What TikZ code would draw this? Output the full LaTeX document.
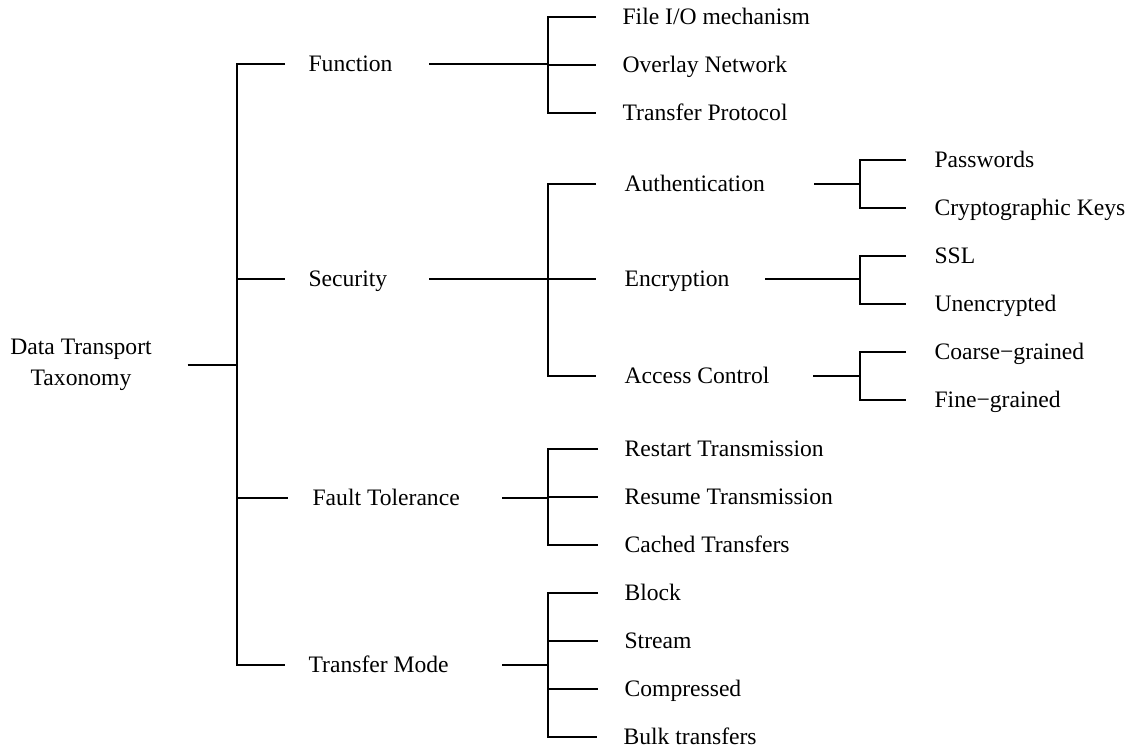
\documentclass[tikz,border=0pt]{standalone}
\usepackage{fontspec}
\setmainfont{Liberation Serif}

\tikzset{
  leaf/.style={anchor=west, inner xsep=#1, inner ysep=0pt, text height=7.8pt, text depth=0pt},
  leaf/.default=13pt,
  branch/.style 2 args={leaf=#1, text width=#2, align=flush left},
}

\begin{document}
\begin{tikzpicture}[x=0.5pt, y=-0.5pt, line width=0.6pt, font=\fontsize{11.8}{15.5}\selectfont]
\useasboundingbox (0,0) rectangle (1132,753);
\coordinate (trunk) at (237,0);
\coordinate (mid) at (548,0);
\coordinate (twig) at (860,0);
\node[align=center, minimum width=106pt, inner xsep=0pt] (root) at (81,365) {Data Transport\\Taxonomy};
% first level
\node[branch={11.5pt}{48.5pt}] (func) at (285,64) {Function};
\node[branch={11.5pt}{48.5pt}] (sec) at (285,279) {Security};
\node[branch={12pt}{82.5pt}] (fault) at (288,498) {Fault Tolerance};
\node[branch={11.5pt}{85pt}] (mode) at (285,665) {Transfer Mode};
% second level
\node[leaf] (fio) at (596,17) {File I/O mechanism};
\node[leaf] (overlay) at (596,65) {Overlay Network};
\node[leaf] (proto) at (596,113) {Transfer Protocol};
\node[branch={14pt}{80.5pt}] (auth) at (596,184) {Authentication};
\node[branch={14pt}{56pt}] (enc) at (596,279) {Encryption};
\node[branch={14pt}{80pt}] (acc) at (596,376) {Access Control};
\node[leaf] (restart) at (598,449) {Restart Transmission};
\node[leaf] (resume) at (598,497) {Resume Transmission};
\node[leaf] (cached) at (598,545) {Cached Transfers};
\node[leaf] (block) at (598,593) {Block};
\node[leaf] (stream) at (598,641) {Stream};
\node[leaf] (compr) at (598,689) {Compressed};
\node[leaf] (bulk) at (597,737) {Bulk transfers};
% third level
\node[leaf=14pt] (pw) at (906,160) {Passwords};
\node[leaf=14pt] (keys) at (906,208) {Cryptographic Keys};
\node[leaf=14pt] (ssl) at (906,256) {SSL};
\node[leaf=14pt] (plain) at (906,304) {Unencrypted};
\node[leaf=14pt] (coarse) at (906,352) {Coarse−grained};
\node[leaf=14pt] (fine) at (906,400) {Fine−grained};
% connectors
\draw (root.east) -- (root.east -| trunk);
\draw (func.west) -- (trunk |- func) -- (trunk |- mode) -- (mode.west);
\draw (trunk |- sec) -- (sec.west);
\draw (trunk |- fault) -- (fault.west);
\draw (func.east) -- (mid |- func);
\draw (fio.west) -- (mid |- fio) -- (mid |- proto) -- (proto.west);
\draw (mid |- overlay) -- (overlay.west);
\draw (sec.east) -- (mid |- sec);
\draw (auth.west) -- (mid |- auth) -- (mid |- acc) -- (acc.west);
\draw (mid |- enc) -- (enc.west);
\draw (fault.east) -- (mid |- fault);
\draw (restart.west) -- (mid |- restart) -- (mid |- cached) -- (cached.west);
\draw (mid |- resume) -- (resume.west);
\draw (mode.east) -- (mid |- mode);
\draw (block.west) -- (mid |- block) -- (mid |- bulk) -- (bulk.west);
\draw (mid |- stream) -- (stream.west);
\draw (mid |- compr) -- (compr.west);
\draw (auth.east) -- (twig |- auth);
\draw (pw.west) -- (twig |- pw) -- (twig |- keys) -- (keys.west);
\draw (enc.east) -- (twig |- enc);
\draw (ssl.west) -- (twig |- ssl) -- (twig |- plain) -- (plain.west);
\draw (acc.east) -- (twig |- acc);
\draw (coarse.west) -- (twig |- coarse) -- (twig |- fine) -- (fine.west);
\end{tikzpicture}
\end{document}
